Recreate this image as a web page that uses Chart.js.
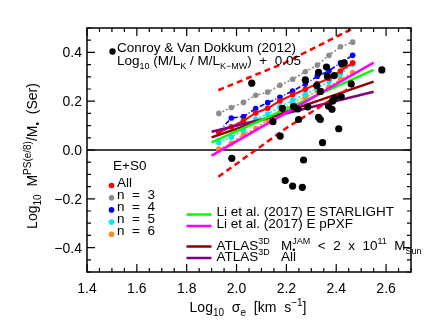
<!DOCTYPE html>
<html><head><meta charset="utf-8">
<script src="https://cdn.jsdelivr.net/npm/chart.js@4/dist/chart.umd.min.js"></script>
<style>html,body{margin:0;padding:0;background:#fff}</style>
</head><body>
<canvas id="c" width="436" height="327"></canvas>
<script>
// ---- data ----
const xTickLabels = ['1.4','1.6','1.8','2.0','2.2','2.4','2.6'];
const yTickLabels = ['\u22120.4','\u22120.2','0.0','0.2','0.4'];
const yTickValues = [-0.4,-0.2,0.0,0.2,0.4];

const binX = [1.929, 1.979, 2.028, 2.077, 2.125, 2.174, 2.225, 2.276, 2.324, 2.371, 2.417, 2.466];
const allY = [0.072, 0.095, 0.120, 0.152, 0.171, 0.201, 0.226, 0.249, 0.272, 0.294, 0.324, 0.357];
const n3Y  = [0.150, 0.174, 0.195, 0.224, 0.237, 0.265, 0.290, 0.321, 0.348, 0.388, 0.423, 0.442];
const n4Y  = [0.075, 0.131, 0.137, 0.170, 0.194, 0.216, 0.242, 0.270, 0.302, 0.325, 0.357, 0.388];
const n5Y  = [0.031, 0.052, 0.082, 0.127, 0.147, 0.177, 0.204, 0.229, 0.253, 0.280, 0.310, 0.352];
const n6Y  = [0.004, 0.027, 0.065, 0.088, 0.124, 0.154, 0.195, 0.215, 0.242, 0.259, 0.290, 0.317];

const conroyX = [2.061,2.146,2.175,2.184,2.229,2.246,2.249,2.286,2.276,2.322,2.329,2.336,2.329,2.336,2.345,2.361,2.364,2.369,2.383,2.385,2.393,2.392,2.410,2.420,2.423,2.432,2.460,2.583,1.981,2.269,2.195,2.225,2.264];
const conroyY = [0.274,0.116,0.057,0.171,0.178,0.168,0.125,0.177,0.287,0.264,0.134,0.125,0.318,0.240,0.030,0.340,0.303,0.180,0.167,0.200,0.212,0.305,0.087,0.219,0.352,0.357,0.271,0.328,-0.034,-0.041,-0.125,-0.148,-0.153];

const fitX = [1.90, 2.55];
const starlightY = [0.031, 0.328];
const ppxfY      = [-0.023, 0.358];
const atlasLowY  = [0.052, 0.280];
const atlasAllY  = [0.075, 0.239];

const upperX = [1.927, 2.195, 2.470];
const upperY = [0.245, 0.358, 0.500];
const lowerX = [1.927, 2.200, 2.470];
const lowerY = [-0.110, 0.090, 0.265];

const zeroX = [1.4, 2.7];
const zeroY = [0, 0];

// ---- helpers ----
const pts = (xs, ys) => xs.map((x, i) => ({x: x, y: ys[i]}));
const FONT = '"Liberation Sans", Arial, Helvetica, sans-serif';
const C = {red:'#ff0000', gray:'#8c8c8c', blue:'#0000ff', cyan:'#00e8ff', orange:'#ff8c1a',
           green:'#00ff00', magenta:'#ff00ff', brown:'#8b0000', purple:'#800080'};

function seriesDs(ys, color, dash, order, width) {
  return {data: pts(binX, ys), showLine: true, borderColor: color, backgroundColor: color,
    borderWidth: width || 1.6, borderDash: dash, pointRadius: 2.8, pointBorderWidth: 0,
    order: order};
}
function lineDs(xs, ys, color, dash, width, order) {
  return {data: pts(xs, ys), showLine: true, borderColor: color, backgroundColor: color,
    borderWidth: width, borderDash: dash, pointRadius: 0, order: order};
}

// rich text: parts = [[text, kind]] kind: n | sub | sup | subsup(sub,sup)
function drawRich(ctx, x, y, parts, align, base) {
  base = base || 13.5;
  const small = Math.round(base * 0.68);
  const w = [];
  let total = 0;
  for (const p of parts) {
    let ww;
    if (p[1] === 'n') { ctx.font = base + 'px ' + FONT; ww = ctx.measureText(p[0]).width; }
    else if (p[1] === 'subsup') { ctx.font = small + 'px ' + FONT;
      ww = Math.max(ctx.measureText(p[0]).width, ctx.measureText(p[2]).width); }
    else { ctx.font = small + 'px ' + FONT; ww = ctx.measureText(p[0]).width; }
    w.push(ww); total += ww;
  }
  let cx = align === 'center' ? x - total / 2 : (align === 'right' ? x - total : x);
  parts.forEach((p, i) => {
    if (p[1] === 'n') { ctx.font = base + 'px ' + FONT; ctx.fillText(p[0], cx, y); }
    else if (p[1] === 'sub') { ctx.font = small + 'px ' + FONT; ctx.fillText(p[0], cx, y + base * 0.3); }
    else if (p[1] === 'sup') { ctx.font = small + 'px ' + FONT; ctx.fillText(p[0], cx, y - base * 0.42); }
    else { ctx.font = small + 'px ' + FONT; ctx.fillText(p[0], cx, y + base * 0.25); ctx.fillText(p[2], cx, y - base * 0.42); }
    cx += w[i];
  });
  return total;
}

const decor = {
  id: 'decor',
  afterDatasetsDraw(chart) {
    const ctx = chart.ctx, a = chart.chartArea;
    const xs = chart.scales.x, ys = chart.scales.y;
    ctx.save();
    ctx.fillStyle = '#000'; ctx.strokeStyle = '#000';
    // frame
    ctx.lineWidth = 1.5;
    ctx.strokeRect(a.left, a.top, a.right - a.left, a.bottom - a.top);
    // inward ticks
    ctx.lineWidth = 1.2;
    ctx.beginPath();
    for (let i = 0; i <= 26; i++) {
      const v = 1.4 + i * 0.05, p = xs.getPixelForValue(v), L = (i % 4 === 0) ? 8 : 4;
      ctx.moveTo(p, a.bottom); ctx.lineTo(p, a.bottom - L);
      ctx.moveTo(p, a.top); ctx.lineTo(p, a.top + L);
    }
    for (let i = 0; i <= 20; i++) {
      const v = -0.5 + i * 0.05, p = ys.getPixelForValue(v), L = ((i - 2) % 4 === 0) ? 8 : 4;
      ctx.moveTo(a.left, p); ctx.lineTo(a.left + L, p);
      ctx.moveTo(a.right, p); ctx.lineTo(a.right - L, p);
    }
    ctx.stroke();
    // tick labels
    ctx.font = '14px ' + FONT;
    ctx.textBaseline = 'alphabetic';
    ctx.textAlign = 'center';
    xTickLabels.forEach(t => ctx.fillText(t, xs.getPixelForValue(parseFloat(t)), a.bottom + 21));
    ctx.textAlign = 'right';
    yTickLabels.forEach((t, i) => ctx.fillText(t, a.left - 5, ys.getPixelForValue(yTickValues[i]) + 5));
    ctx.textAlign = 'left';
    // axis titles
    drawRich(ctx, 248, 312, [['Log','n'],['10','sub'],['  ','n'],['\u03c3','n'],['e','sub'],['  [km  s','n'],['\u22121','sup'],[']','n']], 'center', 14);
    ctx.save();
    ctx.translate(37, 156); ctx.rotate(-Math.PI / 2);
    drawRich(ctx, 0, 0, [['Log','n'],['10','sub'],['  M','n'],['PS(e/8)','sup'],['/M','n'],['\u2022','sub'],['  (Ser)','n']], 'center', 14);
    ctx.restore();
    // Conroy annotation
    ctx.beginPath(); ctx.arc(112.5, 51.5, 3.2, 0, 2 * Math.PI); ctx.fill();
    drawRich(ctx, 117, 52, [['Conroy & Van Dokkum (2012)','n']], 'left');
    drawRich(ctx, 117, 65, [['Log','n'],['10','sub'],[' (M/L','n'],['K','sub'],[' / M/L','n'],['K\u2212MW','sub'],[')  +  0.05','n']], 'left');
    // E+S0 legend
    drawRich(ctx, 113, 170, [['E+S0','n']], 'left');
    const leg = [['All', C.red], ['n  =  3', C.gray], ['n  =  4', C.blue], ['n  =  5', C.cyan], ['n  =  6', C.orange]];
    leg.forEach((e, i) => {
      const yy = 186.5 + i * 12.2;
      ctx.fillStyle = e[1]; ctx.beginPath(); ctx.arc(111.5, yy - 1, 2.8, 0, 2 * Math.PI); ctx.fill();
      ctx.fillStyle = '#000';
      drawRich(ctx, 117, yy, [[e[0],'n']], 'left');
    });
    // line legend
    const lx0 = 186.5, lx1 = 211.5, tx = 216.5;
    const lineLeg = [
      [C.green, 214.5, 216, [['Li et al. (2017) E STARLIGHT','n']]],
      [C.magenta, 226, 227.5, [['Li et al. (2017) E pPXF','n']]],
      [C.brown, 246.5, 250, [['ATLAS','n'],['3D','sup'],['   M','n'],['\u2022','sub','JAM'],['  <  2  x  10','n'],['11','sup'],['  M','n'],['Sun','sub']]],
      [C.purple, 258, 261, [['ATLAS','n'],['3D','sup'],['   All','n']]]
    ];
    lineLeg.forEach(e => {
      ctx.strokeStyle = e[0]; ctx.lineWidth = 2.5;
      ctx.beginPath(); ctx.moveTo(lx0, e[1]); ctx.lineTo(lx1, e[1]); ctx.stroke();
      ctx.fillStyle = '#000';
      const parts = e[3].map(p => p[2] ? [p[0], 'subsup', p[2]] : p);
      drawRich(ctx, tx, e[2], parts, 'left');
    });
    ctx.restore();
  }
};

new Chart(document.getElementById('c'), {
  type: 'scatter',
  data: {datasets: [
    lineDs(zeroX, zeroY, '#000', [], 1.5, 12),
    seriesDs(n6Y, C.orange, [2, 2], 11),
    seriesDs(n5Y, C.cyan, [2, 2], 10),
    seriesDs(n4Y, C.blue, [5, 2, 1, 2], 9),
    seriesDs(n3Y, C.gray, [2, 2], 8),
    seriesDs(allY, C.red, [], 7, 2),
    lineDs(fitX, atlasAllY, C.purple, [], 2.5, 6),
    lineDs(fitX, atlasLowY, C.brown, [], 2.5, 5),
    lineDs(fitX, starlightY, C.green, [], 2.5, 4),
    lineDs(fitX, ppxfY, C.magenta, [], 2.5, 3),
    lineDs(upperX, upperY, C.red, [6, 4], 2.5, 2),
    lineDs(lowerX, lowerY, C.red, [6, 4], 2.5, 2),
    {data: pts(conroyX, conroyY), backgroundColor: '#000', borderColor: '#000', pointRadius: 3.6, pointBorderWidth: 0, order: 0}
  ]},
  options: {
    responsive: false, animation: false, devicePixelRatio: 1,
    layout: {padding: {left: 87, right: 25, top: 28, bottom: 55}},
    plugins: {legend: {display: false}, tooltip: {enabled: false}},
    scales: {
      x: {type: 'linear', min: 1.4, max: 2.7, display: false},
      y: {type: 'linear', min: -0.5, max: 0.5, display: false}
    }
  },
  plugins: [decor]
});
</script>
</body></html>
